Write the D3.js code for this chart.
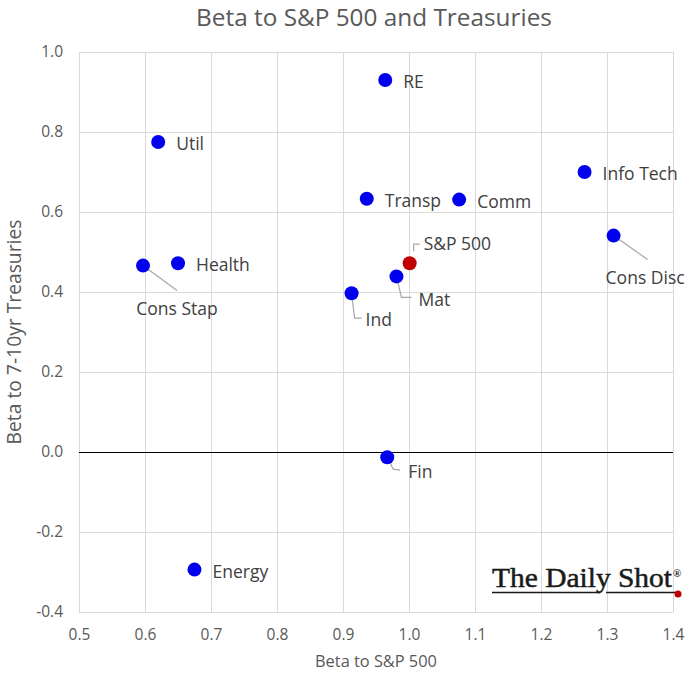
<!DOCTYPE html>
<html><head><meta charset="utf-8">
<script src="https://cdn.jsdelivr.net/npm/d3@7"></script>
<style>body{margin:0;background:#fff}svg{display:block}</style>
</head><body>
<script>
const names = ["RE","Util","Info Tech","Transp","Comm","Cons Disc","S&P 500","Health","Cons Stap","Mat","Ind","Fin","Energy"];
const betaSPX = [0.964,0.620,1.266,0.936,1.076,1.310,1.001,0.650,0.597,0.981,0.913,0.967,0.675];
const betaTsy = [0.930,0.775,0.700,0.633,0.631,0.541,0.472,0.472,0.466,0.439,0.397,-0.013,-0.294];
const xTicks = [0.5,0.6,0.7,0.8,0.9,1.0,1.1,1.2,1.3,1.4];
const yTicks = [-0.4,-0.2,0.0,0.2,0.4,0.6,0.8,1.0];
const labelPos = {
 "RE":["r"],"Util":["r"],"Info Tech":["r"],"Transp":["r"],"Comm":["r"],"Health":["r"],"Energy":["r"],
 "Cons Disc":["lead",[[0,0],[34,24]],-8,41,"start"],
 "Cons Stap":["lead",[[0,0],[34,25]],34,42,"middle"],
 "S&P 500":["lead",[[4,-12],[4,-19],[10,-19]],14,-20,"start"],
 "Mat":["lead",[[0,0],[5,21],[15,21]],22,23,"start"],
 "Ind":["lead",[[0,0],[3,25],[10,25]],14,26,"start"],
 "Fin":["lead",[[0,0],[6,12],[13,13]],21,14,"start"]
};

const W=696,H=682;
const m={l:79,r:23,t:52,b:70};
const svg=d3.select("body").append("svg").attr("width",W).attr("height",H);
const x=d3.scaleLinear().domain([0.5,1.4]).range([m.l,W-m.r]);
const y=d3.scaleLinear().domain([-0.4,1.0]).range([H-m.b,m.t]);
const font="'Open Sans', sans-serif";
const fmt=d=>d3.format(".1f")(d).replace("\u2212","-");
function fit(t,w){const s=+t.attr("font-size");const l=t.node().getComputedTextLength();t.attr("font-size",(s*w/l).toFixed(2));}

svg.append("g").selectAll("line").data(xTicks).join("line")
 .attr("x1",d=>x(d)).attr("x2",d=>x(d)).attr("y1",y(1.0)).attr("y2",y(-0.4))
 .attr("stroke","#d9d9d9").attr("stroke-width",1).attr("shape-rendering","crispEdges");
svg.append("g").selectAll("line").data(yTicks).join("line")
 .attr("x1",x(0.5)).attr("x2",x(1.4)).attr("y1",d=>y(d)).attr("y2",d=>y(d))
 .attr("stroke",d=>d===0?"#000":"#d9d9d9").attr("stroke-width",1).attr("shape-rendering","crispEdges");

const xa=svg.append("g").attr("transform",`translate(0,${y(-0.4)})`)
 .call(d3.axisBottom(x).tickValues(xTicks).tickFormat(fmt).tickSize(0).tickPadding(17));
const ya=svg.append("g").attr("transform",`translate(${x(0.5)},0)`)
 .call(d3.axisLeft(y).tickValues(yTicks).tickFormat(fmt).tickSize(0).tickPadding(16));
[xa,ya].forEach(a=>{a.select(".domain").remove();
 a.selectAll("text").attr("font-family",font).attr("font-size",15.5).attr("fill","#595959");});

const title=svg.append("text").attr("x",374).attr("y",26).attr("text-anchor","middle")
 .attr("font-family",font).attr("font-size",20).attr("fill","#595959").text("Beta to S&P 500 and Treasuries");
fit(title,356);
const xt=svg.append("text").attr("x",376).attr("y",667).attr("text-anchor","middle")
 .attr("font-family",font).attr("font-size",14).attr("fill","#595959").text("Beta to S&P 500");
fit(xt,122);
const yt=svg.append("text").attr("transform","translate(21,332) rotate(-90)").attr("text-anchor","middle")
 .attr("font-family",font).attr("font-size",16).attr("fill","#595959").text("Beta to 7-10yr Treasuries");
fit(yt,225);

const data=names.map((n,i)=>({n,x:betaSPX[i],y:betaTsy[i]}));
data.forEach(d=>{
 const p=labelPos[d.n];
 const px=x(d.x),py=y(d.y);
 if(p[0]==="lead"){
  svg.append("polyline").attr("points",p[1].map(q=>[px+q[0],py+q[1]].join(",")).join(" "))
   .attr("fill","none").attr("stroke","#a6a6a6").attr("stroke-width",1.2);
 }
});
svg.append("g").selectAll("circle").data(data).join("circle")
 .attr("cx",d=>x(d.x)).attr("cy",d=>y(d.y)).attr("r",7)
 .attr("fill",d=>d.n==="S&P 500"?"#c00000":"#0000ee");
data.forEach(d=>{
 const p=labelPos[d.n];
 const px=x(d.x),py=y(d.y);
 const t=svg.append("text").attr("font-family",font).attr("font-size",17.5).attr("fill","#404040")
  .attr("dominant-baseline","central").text(d.n);
 if(p[0]==="r"){t.attr("x",px+18).attr("y",py+1);}
 else{t.attr("x",px+p[2]).attr("y",py+p[3]).attr("text-anchor",p[4]);}
});

const lg=svg.append("g");
lg.append("text").attr("x",492).attr("y",587).attr("font-family","'Liberation Serif','DejaVu Serif',serif")
 .attr("font-size",28).attr("fill","#1a1a1a").attr("stroke","#1a1a1a").attr("stroke-width",0.5)
 .attr("textLength",180).attr("lengthAdjust","spacingAndGlyphs").text("The Daily Shot");
lg.append("text").attr("x",673).attr("y",577).attr("font-family","'Liberation Serif',serif")
 .attr("font-size",11).attr("font-weight","bold").attr("fill","#1a1a1a").text("®");
lg.append("line").attr("x1",492).attr("x2",600).attr("y1",592.5).attr("y2",592.5).attr("stroke","#1a1a1a").attr("stroke-width",1.6);
lg.append("line").attr("x1",606).attr("x2",677).attr("y1",592.5).attr("y2",592.5).attr("stroke","#1a1a1a").attr("stroke-width",1.6);
lg.append("circle").attr("cx",678).attr("cy",594).attr("r",3.5).attr("fill","#c00000");
</script>
</body></html>
